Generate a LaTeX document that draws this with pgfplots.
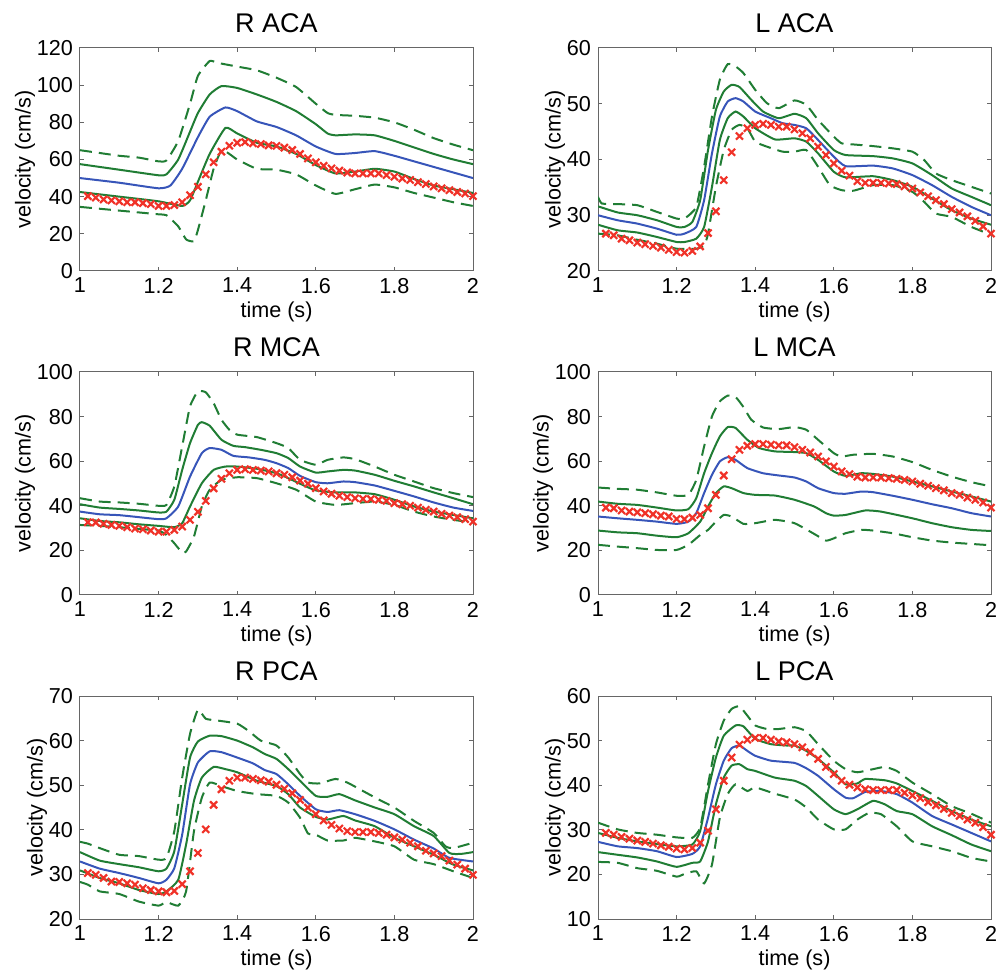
\documentclass[border=0pt]{standalone}
\usepackage{fontspec}
\setmainfont{Liberation Sans}
\usepackage{pgfplots}
\pgfplotsset{compat=1.18}

\definecolor{mgreen}{RGB}{32,125,52}
\definecolor{mblue}{RGB}{55,85,185}
\definecolor{mred}{RGB}{240,50,40}

\pgfplotsset{
  panel/.style={
    width=196.5pt, height=111.5pt, scale only axis, anchor=south west,
    xmin=1, xmax=2,
    xtick={1,1.2,1.4,1.6,1.8,2}, xticklabels={1,1.2,1.4,1.6,1.8,2},
    tick align=inside, major tick length=2.2pt,
    axis line style={draw=black!60, line width=0.5pt},
    every tick/.style={draw=black!60, line width=0.5pt},
    tick label style={font=\fontsize{10.8}{12}\selectfont},
    /pgf/number format/assume math mode=true,
    label style={font=\fontsize{10.8}{12}\selectfont},
    title style={font=\fontsize{13.5}{15}\selectfont, yshift=-2pt},
    xlabel={time (s)}, ylabel={velocity (cm/s)},
    xlabel style={yshift=2.5pt}, ylabel style={yshift=-6pt},
    xticklabel style={yshift=0pt},
  },
  band/.style={mgreen, line width=1pt, dash pattern=on 6pt off 3.5pt, no markers, smooth, tension=0.3},
  inner/.style={mgreen, line width=1pt, no markers, smooth, tension=0.3},
  mean/.style={mblue, line width=1pt, no markers, smooth, tension=0.3},
  meas/.style={only marks, mark=x, mark size=2.5pt, mred, mark options={line width=1.1pt}},
}

\begin{document}
\begin{tikzpicture}
\path[use as bounding box] (0,0) rectangle (500.5pt,487.5pt);

% ---------------- R ACA
\begin{axis}[panel, at={(40pt,352pt)}, title={R ACA}, ymin=0, ymax=120, ytick={0,20,...,120}]
\addplot[band] coordinates {(1,65) (1.05,63.5) (1.1,62) (1.15,61) (1.2,59) (1.22,59.5) (1.25,70) (1.28,90) (1.3,105) (1.33,113) (1.35,112) (1.4,110) (1.45,108) (1.5,104) (1.55,99) (1.6,90) (1.63,85) (1.65,84) (1.7,83.5) (1.75,82.5) (1.8,80) (1.85,76) (1.9,71.5) (1.95,68) (2,65)};
\addplot[inner] coordinates {(1,57.5) (1.1,54.5) (1.2,51.5) (1.22,52) (1.25,60) (1.28,75) (1.3,85) (1.33,95) (1.36,99.5) (1.4,98.5) (1.45,95) (1.5,91) (1.55,86) (1.6,79) (1.63,74) (1.65,73) (1.7,73.5) (1.75,73) (1.8,70) (1.85,66.5) (1.9,63) (1.95,60) (2,57.5)};
\addplot[mean] coordinates {(1,50) (1.1,47.5) (1.2,44.5) (1.23,46) (1.26,55) (1.3,72) (1.33,83) (1.37,88) (1.4,86) (1.45,80.5) (1.5,77.5) (1.55,73) (1.6,67) (1.65,63) (1.7,63.5) (1.75,64.5) (1.8,62) (1.85,59) (1.9,56) (1.95,53) (2,50)};
\addplot[inner] coordinates {(1,42.5) (1.1,40) (1.2,37.5) (1.26,35) (1.28,38) (1.3,48) (1.33,63) (1.37,77) (1.4,74) (1.45,69) (1.5,67) (1.55,63) (1.6,57) (1.65,52.5) (1.7,53.5) (1.75,55) (1.8,53.5) (1.85,49.5) (1.9,46) (1.95,44) (2,42)};
\addplot[band] coordinates {(1,34.5) (1.1,32.5) (1.2,30.5) (1.22,30) (1.25,24) (1.27,17) (1.29,16) (1.3,22) (1.32,38) (1.34,55) (1.36,65) (1.38,63) (1.4,60) (1.45,55) (1.5,54.5) (1.55,52) (1.6,46) (1.65,41.5) (1.7,44) (1.75,46.5) (1.8,45) (1.85,42) (1.9,39.5) (1.95,37) (2,35)};
\addplot[meas] coordinates {(1.02,40.3) (1.04,39.5) (1.06,38.5) (1.08,38) (1.1,37.5) (1.12,37) (1.14,37) (1.16,36.5) (1.18,36) (1.2,35) (1.22,35) (1.24,35.5) (1.26,37) (1.28,40.8) (1.3,45.3) (1.32,52) (1.34,58.5) (1.36,64.2) (1.38,67.4) (1.4,69) (1.42,69.4) (1.44,68.7) (1.46,68.3) (1.48,67.6) (1.5,67.3) (1.52,66.4) (1.54,65.1) (1.56,63) (1.58,60.6) (1.6,58.5) (1.62,56.6) (1.64,55.2) (1.66,54) (1.68,53) (1.7,52.5) (1.72,52.5) (1.74,52.5) (1.76,52.5) (1.78,51.6) (1.8,50.7) (1.82,49.8) (1.84,49) (1.86,47.8) (1.88,46.8) (1.9,45.5) (1.92,44.5) (1.94,43.5) (1.96,42.5) (1.98,41.7) (2,40.3)};
\end{axis}

% ---------------- L ACA
\begin{axis}[panel, at={(299pt,352pt)}, title={L ACA}, ymin=20, ymax=60, ytick={20,30,...,60}]
\addplot[band] coordinates {(1,33.3) (1.01,32.1) (1.05,32) (1.1,31.8) (1.15,30.6) (1.2,29.4) (1.22,29.4) (1.25,31.5) (1.27,38.7) (1.29,47.7) (1.31,54.3) (1.33,57.1) (1.35,56.7) (1.37,55.5) (1.4,52.5) (1.43,50.1) (1.46,49.2) (1.5,50.6) (1.53,49.8) (1.56,47.1) (1.6,44.1) (1.62,42.9) (1.65,42.7) (1.7,42.4) (1.75,42) (1.8,41.4) (1.83,39.9) (1.86,37.5) (1.9,36.3) (1.95,35.1) (2,33.9)};
\addplot[inner] coordinates {(1,31.6) (1.05,30.5) (1.1,30) (1.15,29.1) (1.2,27.9) (1.22,27.9) (1.24,28.8) (1.26,32.7) (1.28,41.7) (1.3,48.9) (1.32,52.2) (1.34,53.4) (1.36,53) (1.39,50.7) (1.42,48.6) (1.46,47.4) (1.5,48.2) (1.53,47.4) (1.56,44.7) (1.6,41.7) (1.63,40.8) (1.7,40.6) (1.75,40.2) (1.8,39.3) (1.85,37.2) (1.9,34.8) (1.95,33.3) (2,31.8)};
\addplot[mean] coordinates {(1,30) (1.05,29.1) (1.1,28.5) (1.15,27.6) (1.2,26.5) (1.22,26.7) (1.25,27.9) (1.27,32.7) (1.29,41.1) (1.31,47.7) (1.33,50.4) (1.35,51) (1.37,50.4) (1.4,48.6) (1.44,47.4) (1.47,46.5) (1.5,46.2) (1.53,45.6) (1.56,43.5) (1.6,40.5) (1.63,38.8) (1.7,38.9) (1.75,38.4) (1.8,37.2) (1.85,35.4) (1.9,33.3) (1.95,31.5) (2,30)};
\addplot[inner] coordinates {(1,28.3) (1.05,27.3) (1.1,26.9) (1.15,26.1) (1.2,25.2) (1.22,25.2) (1.25,25.8) (1.27,27.9) (1.29,35.1) (1.31,43.5) (1.33,47.4) (1.35,48.6) (1.37,47.7) (1.4,45.6) (1.45,43.6) (1.5,43.8) (1.53,43.2) (1.56,41.1) (1.6,37.8) (1.63,36.8) (1.7,37) (1.75,36.3) (1.8,35.1) (1.85,33) (1.9,30.9) (1.95,29.4) (2,28.3)};
\addplot[band] coordinates {(1,26.7) (1.05,26.4) (1.1,25.6) (1.15,24.9) (1.2,24) (1.25,24) (1.27,24.6) (1.28,26.7) (1.3,35.1) (1.32,41.7) (1.34,45.3) (1.36,46.2) (1.38,45.6) (1.4,43.2) (1.43,42.3) (1.47,41.4) (1.5,41.4) (1.53,41.7) (1.56,38.7) (1.59,35.4) (1.62,34.5) (1.65,34.4) (1.7,35.4) (1.75,35.4) (1.8,34.2) (1.83,32.4) (1.86,30.3) (1.9,29.7) (1.95,27.9) (2,26.5)};
\addplot[meas] coordinates {(1.02,26.7) (1.04,26.4) (1.06,25.8) (1.08,25.5) (1.1,25.1) (1.12,24.8) (1.14,24.5) (1.16,24.2) (1.18,23.8) (1.2,23.4) (1.22,23.3) (1.24,23.6) (1.26,24.4) (1.28,26.8) (1.3,30.7) (1.32,36.3) (1.34,41.3) (1.36,44.2) (1.38,45.6) (1.4,46.2) (1.42,46.4) (1.44,46.2) (1.46,45.9) (1.48,45.9) (1.5,45.4) (1.52,44.7) (1.54,43.8) (1.56,42.3) (1.58,40.8) (1.6,39.3) (1.62,38) (1.64,37.1) (1.66,36.1) (1.68,35.8) (1.7,35.8) (1.72,35.8) (1.74,35.7) (1.76,35.6) (1.78,35.2) (1.8,34.8) (1.82,34.1) (1.84,33.4) (1.86,32.7) (1.88,32) (1.9,31.1) (1.92,30.5) (1.94,29.8) (1.96,29) (1.98,28) (2,26.7)};
\end{axis}

% ---------------- R MCA
\begin{axis}[panel, at={(40pt,190pt)}, title={R MCA}, ymin=0, ymax=100, ytick={0,20,...,100}]
\addplot[band] coordinates {(1,43.4) (1.05,41.9) (1.1,41.5) (1.15,40.9) (1.2,40) (1.22,40.4) (1.24,48.7) (1.26,66.6) (1.28,84.6) (1.3,91.3) (1.32,90.9) (1.34,86) (1.36,78.6) (1.38,74.1) (1.4,71.9) (1.45,70.8) (1.5,68.1) (1.53,65.9) (1.56,60.6) (1.6,58.4) (1.63,60.6) (1.67,61.7) (1.7,60.9) (1.75,57.6) (1.8,53.9) (1.85,50.9) (1.9,47.9) (1.95,45.7) (2,43.9)};
\addplot[inner] coordinates {(1,40.7) (1.05,39.2) (1.1,38.6) (1.15,37.9) (1.2,37) (1.22,37.4) (1.24,42.7) (1.26,56.1) (1.28,68.1) (1.3,76.3) (1.31,77.5) (1.33,75.9) (1.36,69.6) (1.39,66.9) (1.42,66.3) (1.46,65.1) (1.5,63.6) (1.53,61.4) (1.56,57.6) (1.6,54.9) (1.63,55.4) (1.67,56.1) (1.7,55.8) (1.75,53.9) (1.8,51.2) (1.85,48.7) (1.9,46) (1.95,43.4) (2,40.7)};
\addplot[mean] coordinates {(1,37.4) (1.05,36.2) (1.1,35.8) (1.15,34.9) (1.2,34) (1.22,34.4) (1.25,39.7) (1.28,53.1) (1.31,63.6) (1.33,65.9) (1.36,65.1) (1.39,62.4) (1.43,61.7) (1.47,60.6) (1.5,59.1) (1.53,56.9) (1.56,53.4) (1.6,50.6) (1.63,50.1) (1.67,50.9) (1.7,50.6) (1.75,49.1) (1.8,46.7) (1.85,44.2) (1.9,41.5) (1.95,39.2) (2,37.7)};
\addplot[inner] coordinates {(1,34.4) (1.05,33.2) (1.1,32.6) (1.15,31.7) (1.2,31) (1.24,30.4) (1.26,32.2) (1.28,39.7) (1.31,50.1) (1.34,56.1) (1.37,57.6) (1.4,57.6) (1.45,56.6) (1.5,54.6) (1.53,52.4) (1.56,49.9) (1.6,46.9) (1.65,46) (1.7,46) (1.75,45.2) (1.8,42.7) (1.85,39.7) (1.9,37.4) (1.95,35.9) (2,34.4)};
\addplot[band] coordinates {(1,31.4) (1.05,31) (1.1,30.4) (1.15,29.6) (1.2,28.9) (1.22,26.9) (1.24,23.2) (1.26,19) (1.27,19.5) (1.29,26.2) (1.31,39.7) (1.33,47.2) (1.36,51.6) (1.4,52.8) (1.45,52.4) (1.5,50.1) (1.55,47.2) (1.6,41.9) (1.65,40.4) (1.7,41.2) (1.75,41.9) (1.8,40.4) (1.85,37.4) (1.9,35.2) (1.95,33.7) (2,32.5)};
\addplot[meas] coordinates {(1.02,32.6) (1.04,32.5) (1.06,31.9) (1.08,31.4) (1.1,31) (1.12,30.4) (1.14,29.8) (1.16,29.5) (1.18,28.9) (1.2,28.4) (1.22,28.4) (1.24,29.2) (1.26,30.7) (1.28,33.7) (1.3,37.3) (1.32,42.2) (1.34,47.8) (1.36,52.1) (1.38,54.6) (1.4,56.1) (1.42,56.4) (1.44,56.1) (1.46,55.8) (1.48,55.4) (1.5,54.6) (1.52,53.9) (1.54,52.8) (1.56,51.3) (1.58,49.9) (1.6,47.9) (1.62,46.4) (1.64,45.4) (1.66,44.5) (1.68,43.9) (1.7,43.4) (1.72,43.1) (1.74,43) (1.76,42.7) (1.78,42.2) (1.8,41.2) (1.82,40.7) (1.84,40) (1.86,39.2) (1.88,38.2) (1.9,37.4) (1.92,36.4) (1.94,35.6) (1.96,34.9) (1.98,34) (2,32.9)};
\end{axis}

% ---------------- L MCA
\begin{axis}[panel, at={(299pt,190pt)}, title={L MCA}, ymin=0, ymax=100, ytick={0,20,...,100}]
\addplot[band] coordinates {(1,48.2) (1.05,47.6) (1.1,47.2) (1.15,46) (1.2,44.5) (1.23,44.9) (1.25,51.6) (1.27,66.6) (1.29,80.1) (1.31,86.8) (1.33,89.4) (1.35,88.8) (1.37,84.3) (1.39,78.6) (1.42,75.1) (1.46,74.4) (1.5,75.3) (1.53,74.1) (1.56,69.6) (1.6,63.6) (1.62,62.1) (1.65,62.9) (1.7,63.3) (1.75,62.1) (1.8,59.6) (1.85,56.1) (1.9,53.1) (1.95,50.6) (2,48.7)};
\addplot[inner] coordinates {(1,41.9) (1.05,40.9) (1.1,40.4) (1.15,39.2) (1.2,37.9) (1.23,38.5) (1.25,43.4) (1.27,54.6) (1.29,63.6) (1.31,71.1) (1.33,75.3) (1.35,74.9) (1.38,69.6) (1.41,65.9) (1.45,64.4) (1.5,64.1) (1.53,63.6) (1.56,60.6) (1.6,55.4) (1.63,53.4) (1.67,54.6) (1.7,54.3) (1.75,53.1) (1.8,50.9) (1.85,48.7) (1.9,46.4) (1.95,44.2) (2,41.9)};
\addplot[mean] coordinates {(1,35.2) (1.05,34.4) (1.1,33.7) (1.15,32.9) (1.2,31.9) (1.23,32.9) (1.25,36.7) (1.27,45.7) (1.29,53.9) (1.31,59.9) (1.33,61.8) (1.35,60.6) (1.38,56.9) (1.42,54.6) (1.46,53.6) (1.5,52.7) (1.53,50.9) (1.56,47.9) (1.6,45.7) (1.63,45.4) (1.67,46.4) (1.7,46.1) (1.75,44.5) (1.8,42.7) (1.85,40.7) (1.9,38.9) (1.95,36.7) (2,35.2)};
\addplot[inner] coordinates {(1,28.9) (1.05,28.1) (1.1,27.7) (1.15,26.6) (1.2,25.9) (1.23,27.7) (1.26,32.9) (1.28,39.7) (1.3,45.7) (1.32,48.7) (1.34,47.9) (1.37,45.7) (1.4,44.9) (1.45,44.6) (1.5,42.7) (1.55,39.7) (1.58,36.7) (1.6,35.6) (1.63,35.9) (1.68,37.9) (1.72,37.4) (1.8,34.4) (1.85,32.2) (1.9,30.4) (1.95,29.2) (2,28.7)};
\addplot[band] coordinates {(1,22.5) (1.05,21.7) (1.1,21) (1.15,20.2) (1.2,20.2) (1.23,22.5) (1.26,26.9) (1.28,29.2) (1.3,32.9) (1.32,35.9) (1.34,35.2) (1.37,31.9) (1.4,32.2) (1.45,33.7) (1.5,32.2) (1.55,27.4) (1.58,24.4) (1.6,25.4) (1.63,27.7) (1.67,29.2) (1.7,28.9) (1.75,27.7) (1.8,25.9) (1.85,24.4) (1.9,23.5) (1.95,22.9) (2,22.3)};
\addplot[meas] coordinates {(1.02,39.2) (1.04,38.9) (1.06,37.9) (1.08,37.4) (1.1,37.1) (1.12,36.7) (1.14,36.2) (1.16,35.6) (1.18,35.2) (1.2,34.1) (1.22,34) (1.24,34.7) (1.26,35.9) (1.28,38.9) (1.3,44.9) (1.32,53.6) (1.34,60.9) (1.36,65.1) (1.38,66.9) (1.4,67.7) (1.42,67.7) (1.44,67.4) (1.46,67.1) (1.48,67.1) (1.5,66.3) (1.52,65.1) (1.54,63.9) (1.56,62.1) (1.58,59.9) (1.6,57.6) (1.62,55.4) (1.64,54.2) (1.66,53.1) (1.68,52.7) (1.7,52.7) (1.72,52.7) (1.74,52.4) (1.76,52.1) (1.78,51.6) (1.8,50.9) (1.82,49.9) (1.84,49) (1.86,47.9) (1.88,46.9) (1.9,45.7) (1.92,44.9) (1.94,43.7) (1.96,42.7) (1.98,41.5) (2,39.2)};
\end{axis}

% ---------------- R PCA
\begin{axis}[panel, at={(40pt,28pt)}, title={R PCA}, ymin=20, ymax=70, ytick={20,30,...,70}]
\addplot[band] coordinates {(1,37.3) (1.02,36.9) (1.05,35.9) (1.1,34.4) (1.15,34.1) (1.2,33.3) (1.22,33.7) (1.24,39.7) (1.26,51.7) (1.28,61.5) (1.3,66.9) (1.32,64.9) (1.35,64.5) (1.4,63.8) (1.43,62.1) (1.46,60) (1.5,58.9) (1.53,56.2) (1.56,52.5) (1.58,50.6) (1.61,50.4) (1.65,51.4) (1.68,50.6) (1.72,48.7) (1.76,46.8) (1.8,45) (1.85,42) (1.9,39.3) (1.93,36.3) (1.95,35.9) (2,37.1)};
\addplot[inner] coordinates {(1,35) (1.05,33.1) (1.1,32.3) (1.15,31.6) (1.2,30.7) (1.22,31.3) (1.24,35.2) (1.26,45.7) (1.28,56.2) (1.3,59.8) (1.33,61.1) (1.36,61) (1.4,60) (1.44,58.5) (1.47,57) (1.5,55.9) (1.53,53.6) (1.56,51) (1.6,47.6) (1.63,47.4) (1.66,48) (1.7,46.6) (1.75,45) (1.8,43.5) (1.85,40.8) (1.9,38.6) (1.94,34.8) (1.97,34.6) (2,35)};
\addplot[mean] coordinates {(1,32.9) (1.05,31.3) (1.1,30.3) (1.15,29.2) (1.2,28) (1.22,28.8) (1.24,31.4) (1.26,38.9) (1.28,50.2) (1.3,55.1) (1.33,57.6) (1.36,57.4) (1.4,56.2) (1.44,54.9) (1.47,53.4) (1.5,52.5) (1.53,50.2) (1.56,47.6) (1.6,44.6) (1.63,44) (1.66,44.4) (1.7,43.5) (1.75,42) (1.8,40.1) (1.85,37.8) (1.9,35.8) (1.94,33.7) (2,32.9)};
\addplot[inner] coordinates {(1,30.9) (1.05,29.2) (1.1,28) (1.15,26.5) (1.2,25.6) (1.22,26.2) (1.25,28.8) (1.27,36.7) (1.29,46.5) (1.31,51.7) (1.34,54.1) (1.37,53.6) (1.4,52.9) (1.45,51) (1.5,49.8) (1.53,48) (1.56,45) (1.6,42.9) (1.63,42.3) (1.67,43.1) (1.7,42.1) (1.75,40.8) (1.8,38.2) (1.85,36.3) (1.9,34.4) (1.95,32.2) (2,30.9)};
\addplot[band] coordinates {(1,28.3) (1.02,27.7) (1.05,26.2) (1.1,25.6) (1.15,23.9) (1.2,23) (1.22,23.8) (1.25,23) (1.27,26.2) (1.29,39.7) (1.31,47.2) (1.33,50.6) (1.36,49.8) (1.4,48.7) (1.45,48) (1.5,47.6) (1.53,46.1) (1.56,42.7) (1.58,39.2) (1.6,38.9) (1.63,37.6) (1.67,37.6) (1.7,38.2) (1.75,37.4) (1.8,36.3) (1.85,33.3) (1.9,32.3) (1.95,30.7) (2,29.2)};
\addplot[meas] coordinates {(1.02,30.3) (1.04,29.9) (1.06,29.2) (1.08,28.4) (1.1,28.3) (1.12,28) (1.14,27.7) (1.16,26.9) (1.18,26.5) (1.2,26.2) (1.22,26) (1.24,26.3) (1.26,27.8) (1.28,30.7) (1.3,34.8) (1.32,40.1) (1.34,45.6) (1.36,49.1) (1.38,51) (1.4,51.7) (1.42,51.7) (1.44,51.4) (1.46,51.1) (1.48,50.8) (1.5,50.1) (1.52,49.2) (1.54,48.2) (1.56,46.7) (1.58,45) (1.6,43.5) (1.62,42.1) (1.64,41.1) (1.66,40.3) (1.68,39.7) (1.7,39.5) (1.72,39.5) (1.74,39.5) (1.76,39.3) (1.78,38.9) (1.8,38.3) (1.82,37.8) (1.84,37.1) (1.86,36.3) (1.88,35.3) (1.9,34.7) (1.92,34.1) (1.94,33.1) (1.96,32.2) (1.98,31.3) (2,29.9)};
\end{axis}

% ---------------- L PCA
\begin{axis}[panel, at={(299pt,28pt)}, title={L PCA}, ymin=10, ymax=60, ytick={10,20,...,60}]
\addplot[band] coordinates {(1,31.6) (1.05,30.1) (1.1,29.3) (1.15,28.9) (1.2,28.3) (1.24,28.2) (1.26,30.5) (1.28,40.2) (1.3,49.2) (1.32,54.5) (1.34,57.1) (1.36,57.7) (1.38,55.6) (1.4,53.4) (1.43,52.6) (1.46,52.6) (1.5,53) (1.53,52.1) (1.56,49.2) (1.6,45.5) (1.63,43.6) (1.66,42.9) (1.7,43.6) (1.73,44.1) (1.76,43.2) (1.8,40.6) (1.85,38) (1.9,35.3) (1.95,33.6) (2,31.6)};
\addplot[inner] coordinates {(1,29.3) (1.05,28.2) (1.1,27.4) (1.15,26.8) (1.2,26.3) (1.24,26.7) (1.26,29.7) (1.28,38.7) (1.3,46.2) (1.32,51.1) (1.35,53.4) (1.37,53.2) (1.4,50.4) (1.44,49.2) (1.48,48.9) (1.5,48.9) (1.53,47.7) (1.56,45.9) (1.6,42.9) (1.63,40.2) (1.66,40.4) (1.68,41.4) (1.73,41.1) (1.76,40.4) (1.8,38.7) (1.85,36.5) (1.9,34.2) (1.95,32.3) (2,30.8)};
\addplot[mean] coordinates {(1,27.3) (1.05,26.3) (1.1,25.9) (1.15,25.2) (1.2,23.9) (1.24,24.6) (1.26,26.3) (1.28,32.7) (1.3,40.2) (1.32,45.5) (1.34,48.3) (1.36,48.9) (1.38,47.7) (1.4,46.6) (1.44,45.5) (1.5,45) (1.53,43.8) (1.56,42.1) (1.6,39.1) (1.63,37.2) (1.65,37.1) (1.68,38.5) (1.72,38.7) (1.76,38) (1.8,36.1) (1.85,33.1) (1.9,31.2) (1.95,29.3) (2,27.4)};
\addplot[inner] coordinates {(1,25) (1.05,24.4) (1.1,23.8) (1.15,22.9) (1.2,21.7) (1.24,22.6) (1.26,22.9) (1.28,27.4) (1.3,35.7) (1.32,41.7) (1.34,44.4) (1.36,44.7) (1.38,43.6) (1.4,43.2) (1.45,41.7) (1.5,41) (1.53,39.8) (1.56,37.6) (1.6,34.6) (1.63,33.5) (1.66,34.6) (1.7,36.5) (1.73,35.7) (1.76,34.2) (1.8,33.5) (1.85,30.8) (1.9,28.8) (1.95,26.7) (2,25.2)};
\addplot[band] coordinates {(1,22.8) (1.05,22.6) (1.1,21.4) (1.15,20.8) (1.2,19.5) (1.22,20.1) (1.25,20.7) (1.27,18) (1.29,22.2) (1.31,32.7) (1.33,38) (1.35,40.2) (1.38,38.7) (1.4,39.5) (1.45,38.1) (1.5,36.8) (1.53,35) (1.56,32.3) (1.6,30.1) (1.63,30.1) (1.66,32.3) (1.69,33.8) (1.72,33.5) (1.76,30.8) (1.8,27.4) (1.85,26.3) (1.9,25.2) (1.95,23.7) (2,22.9)};
\addplot[meas] coordinates {(1.02,29.3) (1.04,28.9) (1.06,28.4) (1.08,28) (1.1,27.6) (1.12,27.3) (1.14,26.9) (1.16,26.5) (1.18,26.2) (1.2,25.8) (1.22,25.6) (1.24,25.9) (1.26,27.1) (1.28,29.8) (1.3,34.6) (1.32,41) (1.34,46.2) (1.36,49.1) (1.38,50.2) (1.4,50.6) (1.42,50.6) (1.44,50.2) (1.46,49.8) (1.48,49.6) (1.5,49.2) (1.52,48.5) (1.54,47.4) (1.56,45.9) (1.58,44.1) (1.6,42.5) (1.62,41) (1.64,40.1) (1.66,39.5) (1.68,39.1) (1.7,38.9) (1.72,38.9) (1.74,38.9) (1.76,38.9) (1.78,38.3) (1.8,37.7) (1.82,37.1) (1.84,36.2) (1.86,35.5) (1.88,34.7) (1.9,33.8) (1.92,33.1) (1.94,32.3) (1.96,31.6) (1.98,30.6) (2,28.9)};
\end{axis}
\end{tikzpicture}
\end{document}
